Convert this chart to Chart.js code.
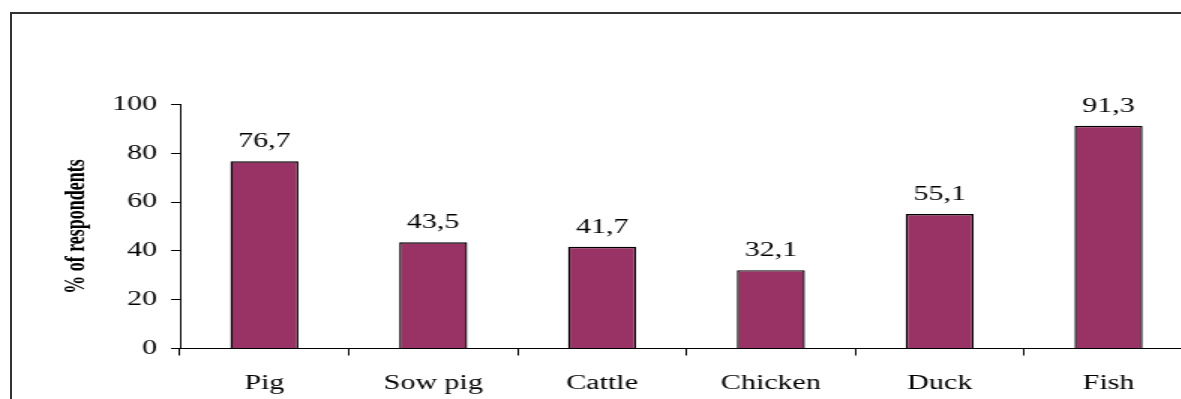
<!DOCTYPE html>
<html>
<head>
<meta charset="utf-8">
<script src="https://cdn.jsdelivr.net/npm/chart.js@4.4.1/dist/chart.umd.min.js"></script>
<style>
  html, body { margin: 0; padding: 0; background: #fff; overflow: hidden; width: 1181px; height: 399px; }
  /* the original picture is stretched sideways, so the chart is drawn narrow and widened */
  #wrap { position: absolute; left: 0; top: 0; width: 808px; height: 420px;
          transform: scaleX(1.5); transform-origin: 0 0; }
  #frame { position: absolute; left: 10px; top: 12px; width: 1400px; height: 600px;
           border-left: 2px solid #333; border-top: 2px solid #333; pointer-events: none; }
</style>
</head>
<body>
<div id="wrap"><canvas id="chart" width="808" height="420"></canvas></div>
<div id="frame"></div>
<script>
const categories = ['Pig', 'Sow pig', 'Cattle', 'Chicken', 'Duck', 'Fish'];
const respondents = [76.7, 43.5, 41.7, 32.1, 55.1, 91.3];
const yTicks = [0, 20, 40, 60, 80, 100];

const serif = "'Liberation Serif', 'Times New Roman', serif";

// values above the bars, with a decimal comma
const valueLabels = {
    id: 'valueLabels',
    afterDatasetsDraw(chart) {
        const ctx = chart.ctx;
        const meta = chart.getDatasetMeta(0);
        ctx.save();
        ctx.font = '20px ' + serif;
        ctx.fillStyle = '#000';
        ctx.textAlign = 'center';
        ctx.textBaseline = 'alphabetic';
        meta.data.forEach((bar, i) => {
            const txt = respondents[i].toFixed(1).replace('.', ',');
            ctx.fillText(txt, bar.x, bar.y - 14);
        });
        ctx.restore();
    }
};

new Chart(document.getElementById('chart'), {
    type: 'bar',
    data: {
        labels: categories,
        datasets: [{
            data: respondents,
            backgroundColor: '#993366',
            borderColor: '#000',
            borderWidth: 1.4,
            categoryPercentage: 1,
            barPercentage: 0.403,
        }],
    },
    options: {
        responsive: false,
        animation: false,
        layout: { padding: { left: 40.5, top: 104.5, right: 12.7, bottom: 0 } },
        plugins: {
            legend: { display: false },
            tooltip: { enabled: false },
        },
        scales: {
            x: {
                afterFit(scale) { scale.height = 71.5; },
                grid: {
                    offset: true,
                    drawOnChartArea: false,
                    drawTicks: true,
                    tickLength: 7,
                    color: '#000',
                },
                border: { display: true, color: '#000', width: 1 },
                ticks: {
                    color: '#000',
                    padding: 16,
                    font: { family: serif, size: 20 },
                    maxRotation: 0,
                },
            },
            y: {
                min: 0,
                max: 100,
                afterFit(scale) { scale.width = 79.5; },
                afterBuildTicks(scale) { scale.ticks = yTicks.map(v => ({ value: v })); },
                grid: {
                    drawOnChartArea: false,
                    drawTicks: true,
                    tickLength: 6,
                    color: '#000',
                },
                border: { display: true, color: '#000', width: 1 },
                ticks: {
                    color: '#000',
                    padding: 9.3,
                    font: { family: serif, size: 20 },
                },
                title: {
                    display: true,
                    text: '% of respondents',
                    color: '#000',
                    padding: { top: 0, bottom: 0 },
                    font: { family: serif, size: 18, weight: 'bold' },
                },
            },
        },
    },
    plugins: [valueLabels],
});
</script>
</body>
</html>
